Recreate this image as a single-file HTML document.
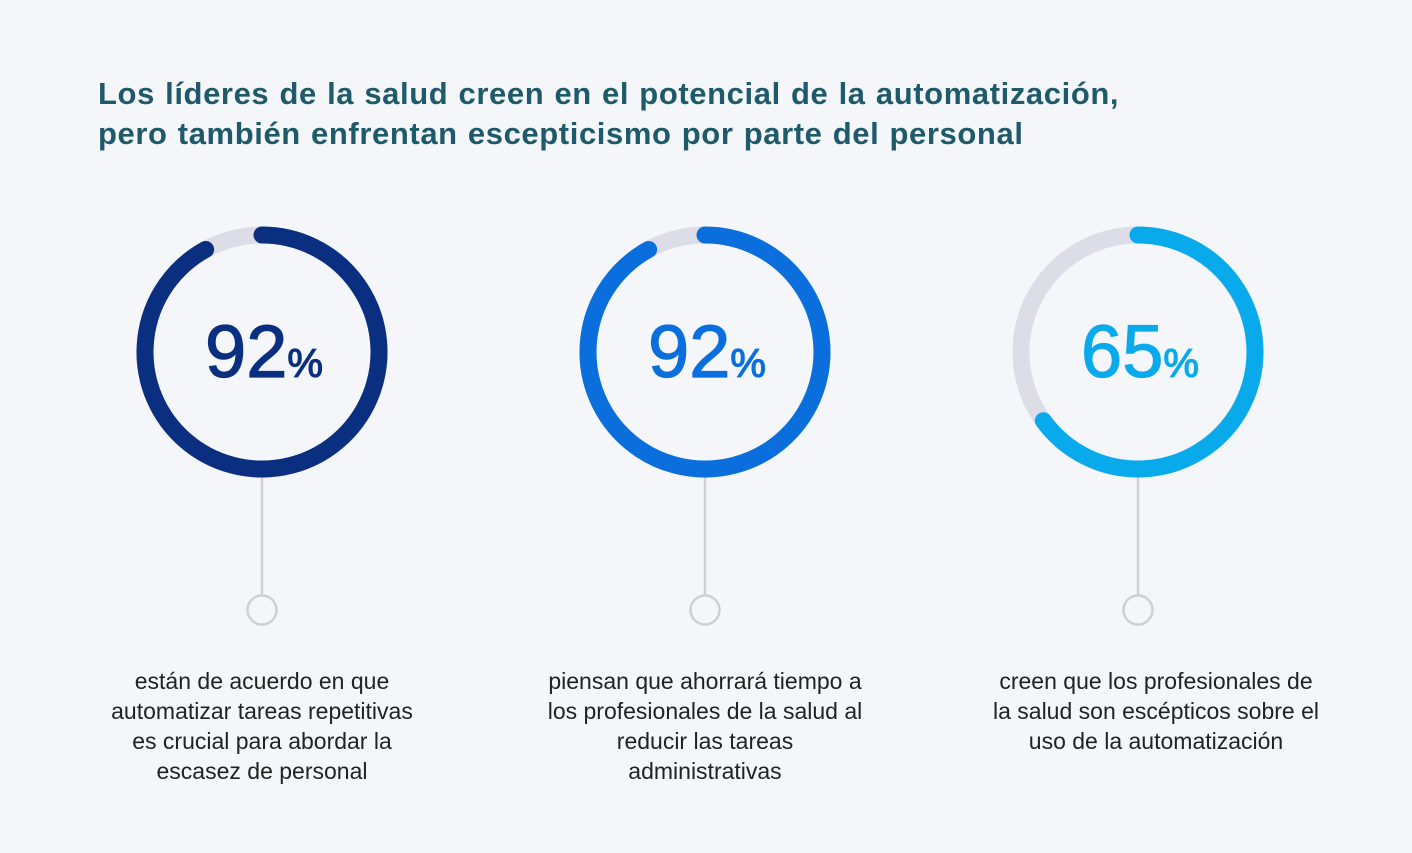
<!DOCTYPE html>
<html><head><meta charset="utf-8"><style>
body{margin:0;background:#f5f6fa;font-family:"Liberation Sans","DejaVu Sans",sans-serif;}
#wrap{position:relative;width:1412px;height:853px;overflow:hidden;}
h1{position:absolute;left:98px;top:74px;margin:0;font-size:31px;line-height:40px;color:#1e5a6a;font-weight:bold;letter-spacing:0.6px;word-spacing:1px;}
.desc{position:absolute;top:666px;width:420px;text-align:center;font-size:23px;line-height:30px;color:#222;white-space:nowrap;}
</style></head><body>
<div id="wrap">
<h1>Los líderes de la salud creen en el potencial de la automatización,<br>pero también enfrentan escepticismo por parte del personal</h1>
<svg id="svg" width="1412" height="853" style="position:absolute;left:0;top:0"></svg>
<div class="desc" style="left:52px">están de acuerdo en que<br>automatizar tareas repetitivas<br>es crucial para abordar la<br>escasez de personal</div>
<div class="desc" style="left:495px">piensan que ahorrará tiempo a<br>los profesionales de la salud al<br>reducir las tareas<br>administrativas</div>
<div class="desc" style="left:946px">creen que los profesionales de<br>la salud son escépticos sobre el<br>uso de la automatización</div>
</div>
<script>
const values=[92,92,65];
const labels=["92","92","65"];
const colors=["#0b2f80","#0a6fdd","#09aaec"];
const centersX=[262,705,1138];
const NS="http://www.w3.org/2000/svg";
const svg=document.getElementById('svg');
const cy=352,r=117,sw=17;
function mk(t,a){const e=document.createElementNS(NS,t);for(const k in a)e.setAttribute(k,a[k]);svg.appendChild(e);return e;}
values.forEach((v,i)=>{
 const cx=centersX[i];
 const track=mk('circle',{cx:cx,cy:cy,r:r,fill:'none',stroke:'#dcdde7','stroke-width':sw});
 
 
 const a=v/100*2*Math.PI;
 const x=cx+r*Math.sin(a),y=cy-r*Math.cos(a);
 const arc=mk('path',{d:`M${cx} ${cy-r} A${r} ${r} 0 ${v>50?1:0} 1 ${x} ${y}`,fill:'none',stroke:colors[i],'stroke-width':sw,'stroke-linecap':'round'});
 
 
 const t=mk('text',{x:cx+2,y:cy+25,'text-anchor':'middle',fill:colors[i],stroke:colors[i],'stroke-width':1.2,'font-family':'Liberation Sans, sans-serif'});
 
 
 t.innerHTML=`<tspan font-size="74">${labels[i]}</tspan><tspan font-size="40">%</tspan>`;
 const ln=mk('line',{x1:cx,y1:cy+r+sw/2,x2:cx,y2:595,stroke:'#cfcfd6','stroke-width':2.5});
 
 
 const c=mk('circle',{cx:cx,cy:610,r:14.5,fill:'none',stroke:'#cfcfd6','stroke-width':2.5});
 
 
});
</script>
</body></html>
